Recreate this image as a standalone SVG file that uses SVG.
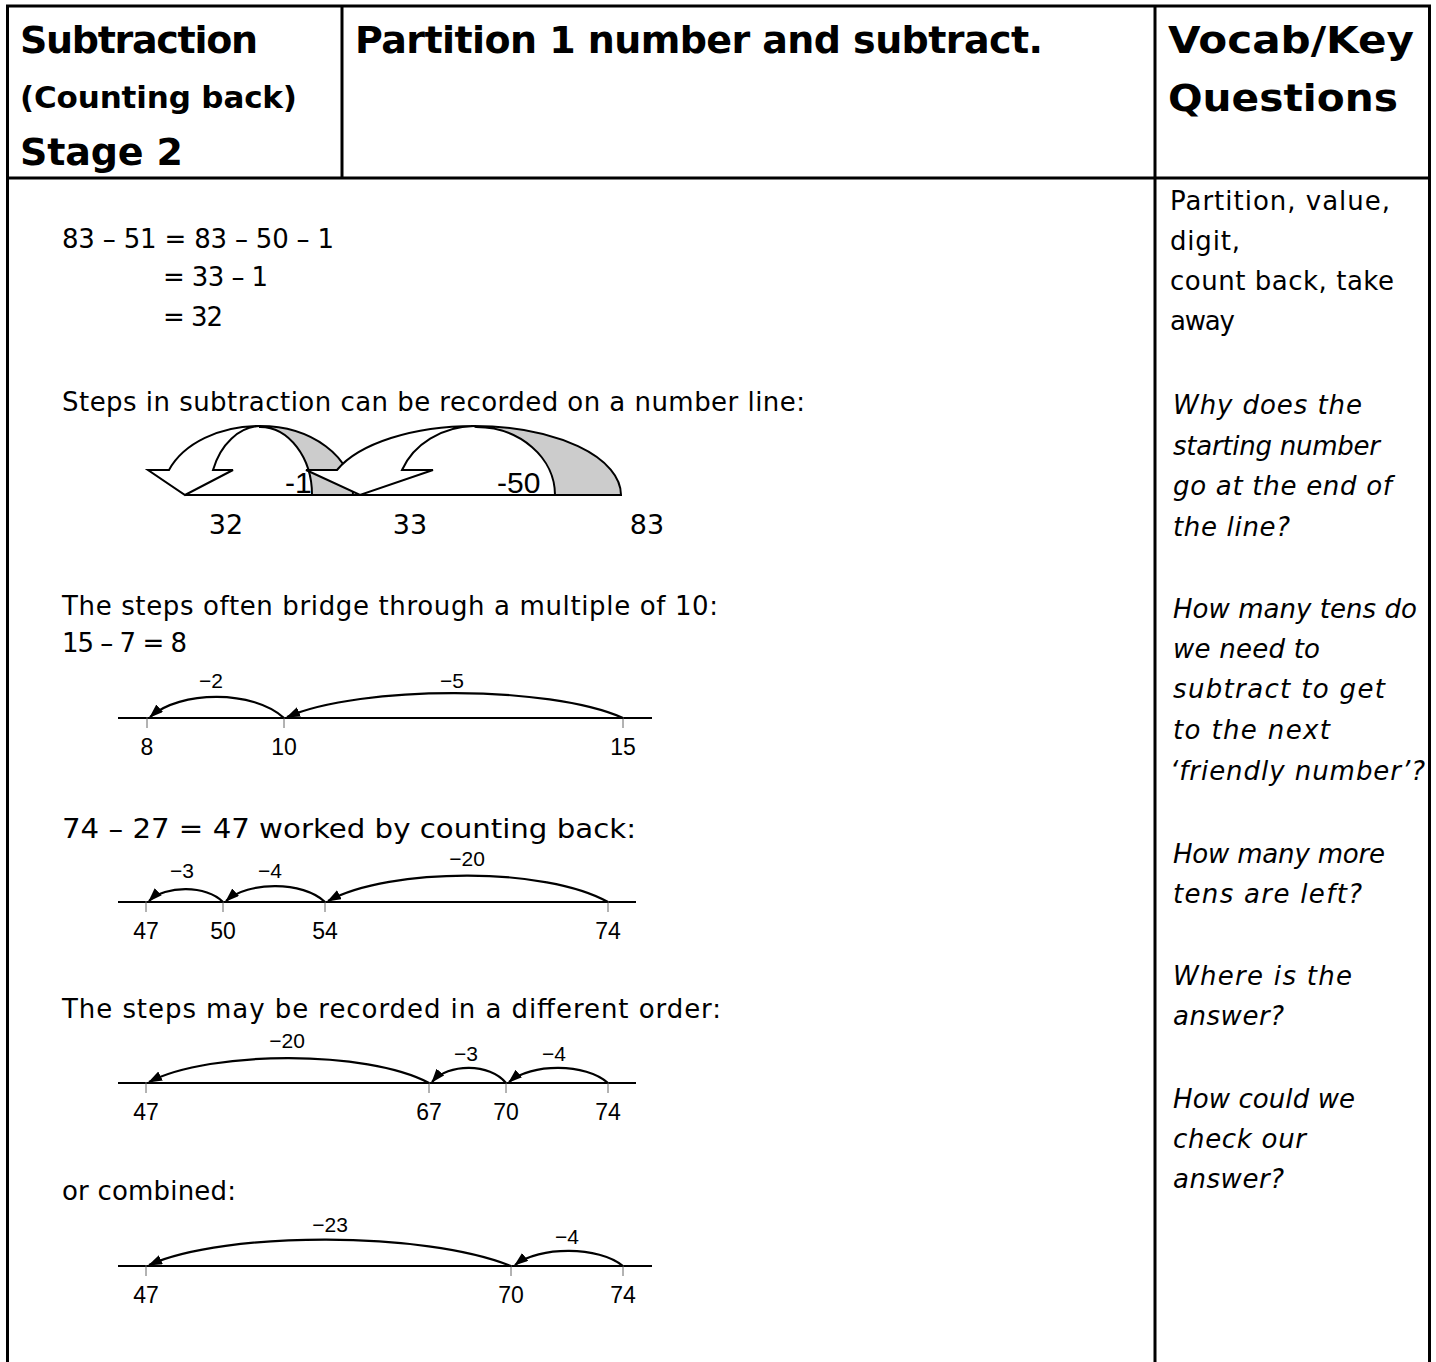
<svg xmlns="http://www.w3.org/2000/svg" width="1436" height="1362" viewBox="0 0 1436 1362">
<style>
text{fill:#000}
.h{font-family:"DejaVu Sans","Liberation Sans",sans-serif;font-weight:bold;font-size:38px}
.hs{font-family:"DejaVu Sans","Liberation Sans",sans-serif;font-weight:bold;font-size:31px}
.b{font-family:"DejaVu Sans","Liberation Sans",sans-serif;font-size:26px}
.q{font-family:"DejaVu Sans","Liberation Sans",sans-serif;font-size:26px;font-style:italic}
.c{font-family:"DejaVu Sans","Liberation Sans",sans-serif;font-size:27px;text-anchor:middle}
.n{font-family:"Liberation Sans",Arial,sans-serif;font-size:23px;text-anchor:middle}
.m{font-family:"Liberation Sans",Arial,sans-serif;font-size:21px;text-anchor:middle}
.bl{font-family:"Liberation Sans",Arial,sans-serif;font-size:30px}
.ax{stroke:#000;stroke-width:2}
.tk{stroke:#666;stroke-width:1}
.arc{fill:none;stroke:#000;stroke-width:2.2;marker-end:url(#ah)}
.wf{fill:#fff;stroke:#000;stroke-width:2}
.gf{fill:#ccc;stroke:#000;stroke-width:2}
.tb{stroke:#000;stroke-width:3;fill:none}
</style>
<defs>
<marker id="ah" markerUnits="userSpaceOnUse" markerWidth="16" markerHeight="12" refX="13" refY="5" orient="auto"><path d="M0,0 L14,5 L0,10 Z" fill="#000"/></marker>
</defs>
<rect width="1436" height="1362" fill="#fff"/>
<g id="table" class="tb">
<line x1="6" y1="6" x2="1431" y2="6"/>
<line x1="7.5" y1="6" x2="7.5" y2="1362"/>
<line x1="1429.5" y1="6" x2="1429.5" y2="1362"/>
<line x1="342" y1="6" x2="342" y2="178"/>
<line x1="1155" y1="6" x2="1155" y2="1362"/>
<line x1="7" y1="178" x2="1430" y2="178"/>
</g>
<g id="title-cell">
<text class="h" x="20" y="53" textLength="238">Subtraction</text>
<text class="hs" x="20" y="108" textLength="277">(Counting back)</text>
<text class="h" x="20" y="165" textLength="163">Stage 2</text>
</g>
<g id="method-cell">
<text class="h" x="355" y="53" textLength="688">Partition 1 number and subtract.</text>
</g>
<g id="vocab-cell">
<text class="h" x="1168" y="53" textLength="246" lengthAdjust="spacingAndGlyphs">Vocab/Key</text>
<text class="h" x="1168" y="111" textLength="230" lengthAdjust="spacingAndGlyphs">Questions</text>
</g>
<g id="examples">
<text class="b" x="62" y="248" textLength="272">83 – 51 = 83 – 50 – 1</text>
<text class="b" x="163" y="286" textLength="105">= 33 – 1</text>
<text class="b" x="163" y="326" textLength="60">= 32</text>
<text class="b" x="62" y="411" textLength="743">Steps in subtraction can be recorded on a number line:</text>
<text class="b" x="62" y="615" textLength="656">The steps often bridge through a multiple of 10:</text>
<text class="b" x="62" y="652" textLength="125">15 – 7 = 8</text>
<text class="b" x="62" y="838" textLength="574" lengthAdjust="spacingAndGlyphs">74 – 27 = 47 worked by counting back:</text>
<text class="b" x="62" y="1018" textLength="659">The steps may be recorded in a different order:</text>
<text class="b" x="62" y="1200" textLength="174">or combined:</text>
</g>
<g id="numberline-1">
<path class="gf" d="M260,426 A93,69 0 0 1 353,495 L312,495 A52,68 0 0 0 260,427 Z"/>
<path class="wf" d="M148,470 L169,470 A97,69 0 0 1 260,426 A52,68 0 0 0 213,470 L233,470 L185,495 Z"/>
<path class="gf" d="M474,426 A147,69 0 0 1 621,495 L555,495 A79,68 0 0 0 476,427 Z"/>
<path class="wf" d="M306,470 L337,470 A147,69 0 0 1 474,426 A79,68 0 0 0 402,470 L433,470 L360,495 Z"/>
<line class="ax" x1="185" y1="495" x2="621" y2="495"/>
<text class="bl" x="285" y="493">-1</text>
<text class="bl" x="497" y="493">-50</text>
<text class="c" x="226" y="534">32</text>
<text class="c" x="410" y="534">33</text>
<text class="c" x="647" y="534">83</text>
</g>
<g id="numberline-2">
<line class="ax" x1="118" y1="718" x2="652" y2="718"/>
<line class="tk" x1="147" y1="717" x2="147" y2="728"/>
<line class="tk" x1="284" y1="717" x2="284" y2="728"/>
<line class="tk" x1="623" y1="717" x2="623" y2="728"/>
<text class="n" x="147" y="755">8</text>
<text class="n" x="284" y="755">10</text>
<text class="n" x="623" y="755">15</text>
<text class="m" x="211" y="688">−2</text>
<text class="m" x="452" y="688">−5</text>
</g>
<g id="numberline-3">
<line class="ax" x1="118" y1="902" x2="636" y2="902"/>
<line class="tk" x1="146" y1="901" x2="146" y2="912"/>
<line class="tk" x1="223" y1="901" x2="223" y2="912"/>
<line class="tk" x1="325" y1="901" x2="325" y2="912"/>
<line class="tk" x1="608" y1="901" x2="608" y2="912"/>
<text class="n" x="146" y="939">47</text>
<text class="n" x="223" y="939">50</text>
<text class="n" x="325" y="939">54</text>
<text class="n" x="608" y="939">74</text>
<text class="m" x="182" y="878">−3</text>
<text class="m" x="270" y="878">−4</text>
<text class="m" x="467" y="866">−20</text>
</g>
<g id="numberline-4">
<line class="ax" x1="118" y1="1083" x2="636" y2="1083"/>
<line class="tk" x1="146" y1="1082" x2="146" y2="1093"/>
<line class="tk" x1="429" y1="1082" x2="429" y2="1093"/>
<line class="tk" x1="506" y1="1082" x2="506" y2="1093"/>
<line class="tk" x1="608" y1="1082" x2="608" y2="1093"/>
<text class="n" x="146" y="1120">47</text>
<text class="n" x="429" y="1120">67</text>
<text class="n" x="506" y="1120">70</text>
<text class="n" x="608" y="1120">74</text>
<text class="m" x="287" y="1048">−20</text>
<text class="m" x="466" y="1061">−3</text>
<text class="m" x="554" y="1061">−4</text>
</g>
<g id="numberline-5">
<line class="ax" x1="118" y1="1266" x2="652" y2="1266"/>
<line class="tk" x1="146" y1="1265" x2="146" y2="1276"/>
<line class="tk" x1="511" y1="1265" x2="511" y2="1276"/>
<line class="tk" x1="623" y1="1265" x2="623" y2="1276"/>
<text class="n" x="146" y="1303">47</text>
<text class="n" x="511" y="1303">70</text>
<text class="n" x="623" y="1303">74</text>
<text class="m" x="330" y="1232">−23</text>
<text class="m" x="567" y="1244">−4</text>
</g>
<g id="connectors">
<path class="arc" d="M623,718 C549,685 361,685 287,717"/>
<path class="arc" d="M284,718 C254,690 180,690 150,717"/>
<path class="arc" d="M608,902 C546,867 390,867 328,901"/>
<path class="arc" d="M325,902 C303,881 248,881 226,901"/>
<path class="arc" d="M223,902 C207,885 165,885 149,901"/>
<path class="arc" d="M429,1083 C367,1050 211,1050 149,1082"/>
<path class="arc" d="M506,1083 C490,1063 448,1063 432,1082"/>
<path class="arc" d="M608,1083 C586,1063 531,1063 509,1082"/>
<path class="arc" d="M511,1266 C425,1231 225,1231 149,1265"/>
<path class="arc" d="M623,1266 C599,1246 539,1246 515,1265"/>
</g>
<g id="vocab">
<text class="b" x="1170" y="210" textLength="220">Partition, value,</text>
<text class="b" x="1170" y="250" textLength="70">digit,</text>
<text class="b" x="1170" y="290" textLength="224">count back, take</text>
<text class="b" x="1170" y="330" textLength="65">away</text>
</g>
<g id="questions">
<text class="q" x="1173" y="414" textLength="189">Why does the</text>
<text class="q" x="1173" y="455" textLength="207">starting number</text>
<text class="q" x="1173" y="495" textLength="219">go at the end of</text>
<text class="q" x="1173" y="536" textLength="117">the line?</text>
<text class="q" x="1173" y="618" textLength="244">How many tens do</text>
<text class="q" x="1173" y="658" textLength="147">we need to</text>
<text class="q" x="1173" y="698" textLength="212">subtract to get</text>
<text class="q" x="1173" y="739" textLength="157">to the next</text>
<text class="q" x="1170" y="780" textLength="255">‘friendly number’?</text>
<text class="q" x="1173" y="863" textLength="212">How many more</text>
<text class="q" x="1173" y="903" textLength="189">tens are left?</text>
<text class="q" x="1173" y="985" textLength="179">Where is the</text>
<text class="q" x="1173" y="1025" textLength="111">answer?</text>
<text class="q" x="1173" y="1108" textLength="182">How could we</text>
<text class="q" x="1173" y="1148" textLength="133">check our</text>
<text class="q" x="1173" y="1188" textLength="111">answer?</text>
</g>
</svg>
